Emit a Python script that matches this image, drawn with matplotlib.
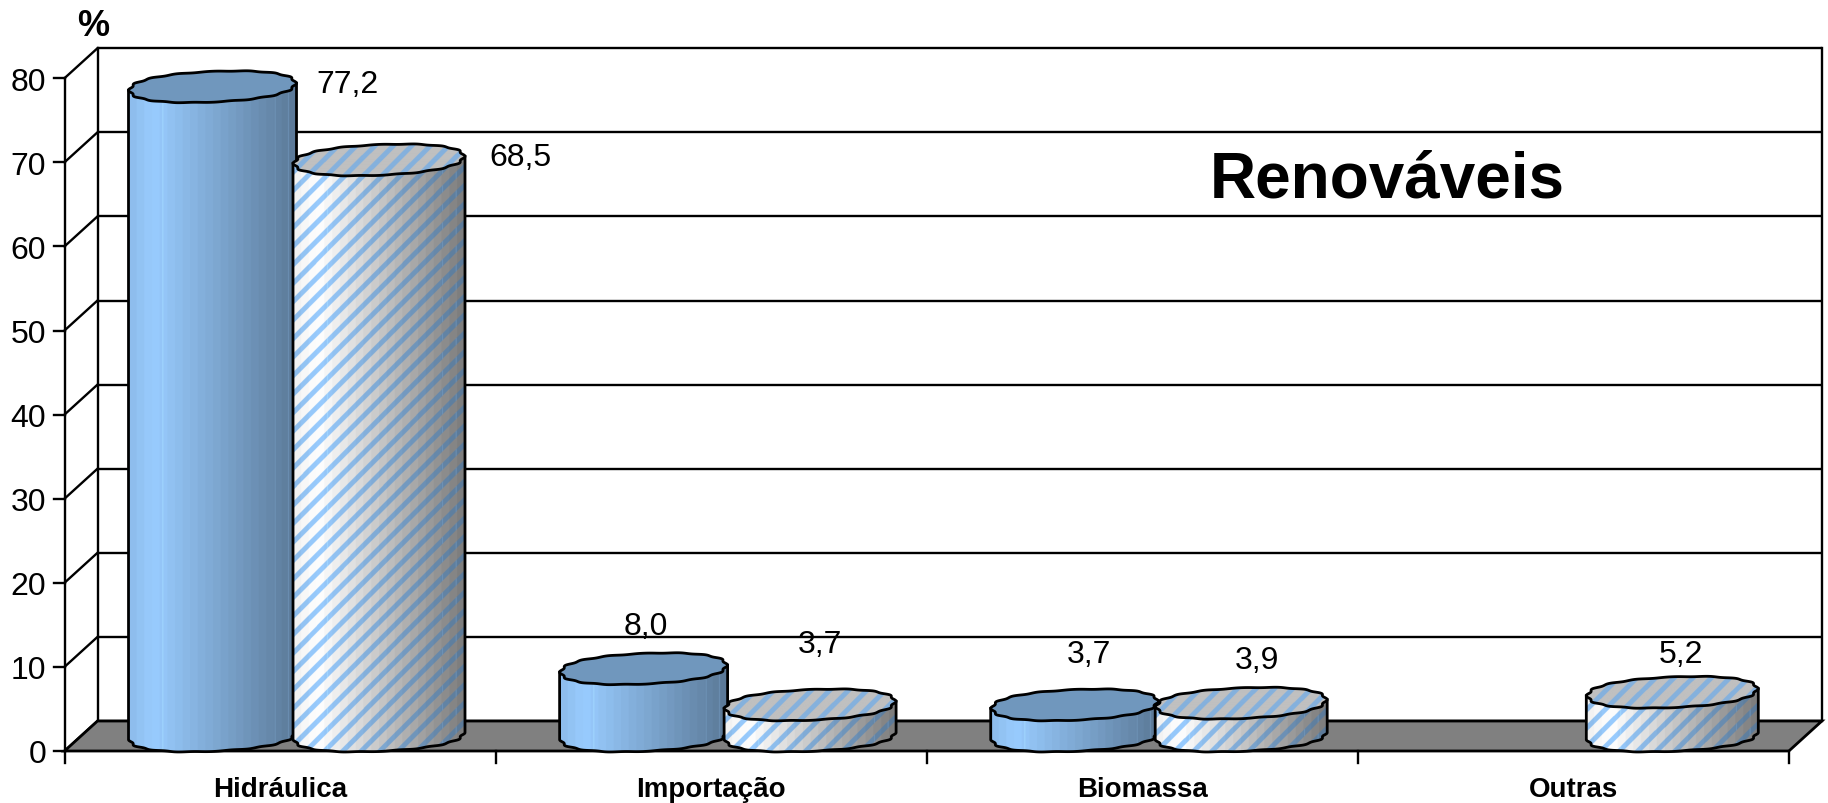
import numpy as np
import matplotlib
matplotlib.use("Agg")
import matplotlib.pyplot as plt
from matplotlib.patches import Polygon

# ---------- data ----------
categories = ["Hidráulica", "Importação", "Biomassa", "Outras"]
solid_values = [77.2, 8.0, 3.7, None]
hatched_values = [68.5, 3.7, 3.9, 5.2]
y_ticks = [0, 10, 20, 30, 40, 50, 60, 70, 80]
solid_labels = ["77,2", "8,0", "3,7", None]
hatched_labels = ["68,5", "3,7", "3,9", "5,2"]

# ---------- layout (pixel geometry of the plot box) ----------
W, H = 1828, 804
X0, Y0 = 64.5, 752        # pixel of category 0 / value 0
PX_CAT, PX_VAL = 431.1, 8.41
DX, DY = 33 / PX_CAT, 30 / PX_VAL    # 3-D depth in data units
SOLID_OFF, HATCH_OFF = 148 / PX_CAT, 314.5 / PX_CAT
SOLID_HALF, HATCH_HALF = 84 / PX_CAT, 86 / PX_CAT
BASE = 15 / PX_VAL        # bar base centre sits halfway along the floor
CAP_B = 15.5 / PX_VAL     # cap half height
CAP_TILT = 3.5 / PX_VAL
LW = 1.7
LW_BAR = 2.0

NARROW = ["Liberation Sans", "DejaVu Sans"]
BOLD = ["Liberation Sans", "DejaVu Sans"]
VAL_FS = 23

fig = plt.figure(figsize=(W / 100, H / 100), dpi=100, facecolor="white")
ax = fig.add_axes([0, 0, 1, 1])
ax.axis("off")
xlim = (-X0 / PX_CAT, (W - X0) / PX_CAT)
ylim = ((Y0 - H) / PX_VAL, Y0 / PX_VAL)


def dx(px):
    return (px - X0) / PX_CAT


def dy(py):
    return (Y0 - py) / PX_VAL


n_cat = len(categories)
top = y_ticks[-1]

# floor
ax.add_patch(Polygon([(0, 0), (DX, DY), (n_cat + DX, DY), (n_cat, 0)],
                     closed=True, fc="#808080", ec="black", lw=LW + 0.3, zorder=1))
# back wall grid and frame
for v in y_ticks:
    ax.plot([DX, n_cat + DX], [v + DY, v + DY], color="black", lw=LW, zorder=0.5,
            solid_capstyle="butt")
    ax.plot([0, DX], [v, v + DY], color="black", lw=LW, zorder=0.6)
    ax.plot([-11 / PX_CAT, 0], [v, v], color="black", lw=LW, zorder=0.6)
    ax.text(dx(46), v, str(v), ha="right", va="center_baseline", fontsize=VAL_FS,
            family=NARROW, color="black")
ax.plot([DX, DX], [DY, top + DY], color="black", lw=LW, zorder=0.6)
ax.plot([n_cat + DX, n_cat + DX], [DY, top + DY], color="black", lw=LW, zorder=0.6)
ax.plot([0, 0], [0, top], color="black", lw=LW, zorder=2)

# category ticks and labels
for i in range(n_cat + 1):
    ax.plot([i, i], [0, -12 / PX_VAL], color="black", lw=LW, zorder=2)
for i, c in enumerate(categories):
    ax.text(i + 0.5, dy(797), c, ha="center", va="baseline", fontsize=20,
            family=BOLD, weight="bold", color="black")


def shade(t):
    """brightness across a cylinder, left to right"""
    return np.interp(t, [0, 0.12, 1.0], [0.93, 1.0, 0.58])


def stripes(px, py):
    return ((px + py) % 18.5) < 7


def cap_outline(xc, yc, half, n=320):
    t = np.linspace(0, 2 * np.pi, n)
    r = 1 - 0.035 * np.sin(t * 8) ** 2
    p = 2 / 2.25
    cx = np.sign(np.cos(t)) * np.abs(np.cos(t)) ** p
    cy = np.sign(np.sin(t)) * np.abs(np.sin(t)) ** p
    return (xc + half * r * cx,
            yc + CAP_B * r * cy + CAP_TILT * cx)


def cylinder(xc, value, hatched, z):
    half = HATCH_HALF if hatched else SOLID_HALF
    y_top = BASE + value
    xl, xr = xc - half, xc + half
    xs_b, ys_b = cap_outline(xc, BASE, half)
    t = np.linspace(0, 2 * np.pi, len(xs_b))
    mask = (t >= np.pi) & (t <= 2 * np.pi)
    body = [(xl, y_top - CAP_TILT)] + list(zip(xs_b[mask], ys_b[mask])) + [(xr, y_top + CAP_TILT)]
    # raster of the shaded side, 3x oversampled
    ss = 3
    pxl, pxr = X0 + xl * PX_CAT, X0 + xr * PX_CAT
    pyt, pyb = Y0 - (y_top + CAP_B + 1) * PX_VAL, Y0 - (BASE - CAP_B - 1) * PX_VAL
    nx, ny = int((pxr - pxl) * ss), int((pyb - pyt) * ss)
    gx = np.linspace(pxl, pxr, nx)
    gy = np.linspace(pyt, pyb, ny)
    PX, PY = np.meshgrid(gx, gy)
    tt = (PX - pxl) / (pxr - pxl)
    band = np.floor(tt * 22) / 22
    b = shade(band)
    for ln in (0.2, 0.87, 0.95):
        b = np.where(np.abs(tt - ln) < 0.003, b + 0.08, b)
    solid_c = np.array([0x99, 0xCC, 0xFF]) / 255
    if hatched:
        base_b = np.interp(band, [0, 0.12, 1.0], [0.95, 1.0, 0.47])
        rgb = np.dstack([base_b] * 3)
        s = stripes(PX, PY)
        rgb[s] = (solid_c[None, :] * b[s][:, None])
    else:
        rgb = solid_c[None, None, :] * b[:, :, None]
    rgb = np.clip(rgb, 0, 1)
    im = ax.imshow(rgb, extent=(xl, xr, dy(pyb), dy(pyt)), origin="upper",
                   aspect="auto", zorder=z)
    poly = Polygon(body, closed=True, fc="none", ec="black", lw=LW_BAR, zorder=z + 0.1)
    ax.add_patch(poly)
    im.set_clip_path(poly)
    # cap
    xs, ys = cap_outline(xc, y_top, half)
    cap = Polygon(list(zip(xs, ys)), closed=True, fc="#7097BD", ec="none", zorder=z + 0.2)
    ax.add_patch(cap)
    if hatched:
        ptop = Y0 - (y_top + CAP_B + 1) * PX_VAL
        pbot = Y0 - (y_top - CAP_B - 1) * PX_VAL
        ny2 = int((pbot - ptop) * ss)
        PX2, PY2 = np.meshgrid(gx, np.linspace(ptop, pbot, ny2))
        rgb2 = np.ones(PX2.shape + (3,)) * (0xC0 / 255)
        rgb2[stripes(PX2, PY2)] = np.array([0x85, 0xB1, 0xDD]) / 255
        im2 = ax.imshow(rgb2, extent=(xl, xr, dy(pbot), dy(ptop)), origin="upper",
                        aspect="auto", zorder=z + 0.3)
        im2.set_clip_path(cap)
    ax.add_patch(Polygon(list(zip(xs, ys)), closed=True, fc="none", ec="black",
                         lw=LW_BAR, zorder=z + 0.4))


z = 3
for i, v in enumerate(solid_values):
    if v is not None:
        cylinder(i + SOLID_OFF, v, False, z)
        z += 1
for i, v in enumerate(hatched_values):
    if v is not None:
        cylinder(i + HATCH_OFF, v, True, z)
        z += 1

# value labels (centre x, baseline y in reference pixels)
solid_label_pos = [(347, 93), (646, 635), (1089, 663), None]
hatched_label_pos = [(520, 166), (820, 653), (1257, 669), (1681, 663)]
for labs, poss in ((solid_labels, solid_label_pos), (hatched_labels, hatched_label_pos)):
    for lab, pos in zip(labs, poss):
        if lab is not None:
            ax.text(dx(pos[0]), dy(pos[1]), lab, ha="center", va="baseline",
                    fontsize=VAL_FS, family=NARROW, color="black", zorder=50)

ax.text(dx(93), dy(36), "%", ha="center", va="baseline", fontsize=26,
        family=BOLD, weight="bold", color="black")
ax.text(dx(1387), dy(198), "Renováveis", ha="center", va="baseline", fontsize=46,
        family=BOLD, weight="bold", color="black", zorder=50)

ax.set_xlim(*xlim)
ax.set_ylim(*ylim)
fig.savefig("out.png", dpi=100, facecolor="white")
